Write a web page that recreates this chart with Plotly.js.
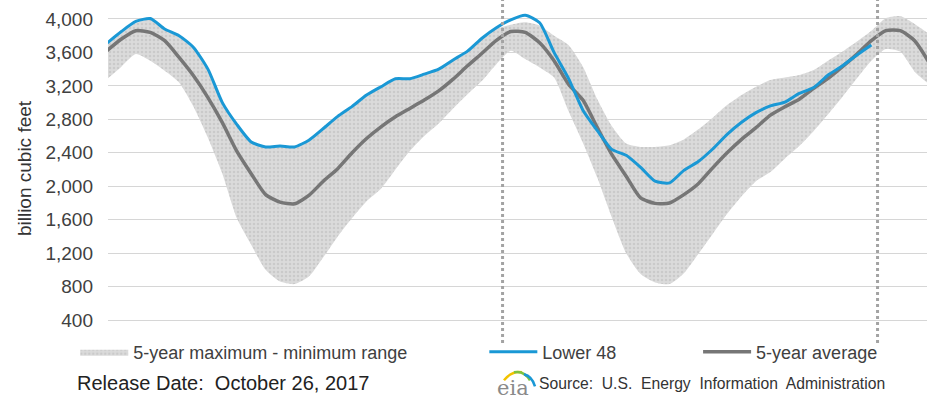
<!DOCTYPE html>
<html>
<head>
<meta charset="utf-8">
<script src="https://cdn.plot.ly/plotly-3.0.1.min.js"></script>
<style>html,body{margin:0;padding:0;background:#fff;}#chart{width:927px;height:401px;}</style>
</head>
<body>
<div id="chart"></div>
<script>
// Weekly report dates (every second week)
const weeks = ['2015-10-09','2015-10-23','2015-11-06','2015-11-20','2015-12-04','2015-12-18',
  '2016-01-01','2016-01-15','2016-01-29','2016-02-12','2016-02-26','2016-03-11','2016-03-25','2016-04-08','2016-04-22',
  '2016-05-06','2016-05-20','2016-06-03','2016-06-17','2016-07-01','2016-07-15','2016-07-29','2016-08-12','2016-08-26',
  '2016-09-09','2016-09-23','2016-10-07','2016-10-21','2016-11-04','2016-11-18','2016-12-02','2016-12-16','2016-12-30',
  '2017-01-13','2017-01-27','2017-02-10','2017-02-24','2017-03-10','2017-03-24','2017-04-07','2017-04-21','2017-05-05',
  '2017-05-19','2017-06-02','2017-06-16','2017-06-30','2017-07-14','2017-07-28','2017-08-11','2017-08-25','2017-09-08',
  '2017-09-22','2017-10-06','2017-10-20','2017-11-03','2017-11-17','2017-12-01','2017-12-15'];

// Lower 48 working gas (Bcf)
const lower48 = [3710,3850,3970,4005,3880,3800,3660,3400,3000,2740,
  2530,2470,2480,2470,2550,2690,2835,2955,3090,3190,
  3285,3285,3340,3400,3510,3615,3770,3895,3990,4045,
  3955,3600,3290,2910,2665,2440,2370,2225,2060,2040,
  2190,2295,2445,2620,2765,2880,2960,3005,3110,3180,
  3330,3440,3570,3690];

// 5-year average
const avg5 = [3620,3760,3860,3840,3740,3540,3320,3060,2760,2420,
  2150,1900,1810,1790,1890,2060,2210,2400,2570,2710,
  2830,2930,3030,3140,3280,3440,3590,3745,3850,3840,
  3715,3500,3220,3030,2700,2380,2120,1860,1795,1800,
  1900,2030,2220,2400,2560,2700,2850,2950,3040,3170,
  3290,3430,3580,3740,3860,3860,3740,3480];

// 5-year maximum
const max5 = [3690,3830,3950,3990,3870,3780,3640,3390,2990,2730,
  2520,2460,2470,2460,2540,2680,2825,2945,3080,3190,
  3270,3275,3330,3390,3500,3600,3755,3880,3930,3960,
  3920,3800,3690,3430,3040,2720,2510,2470,2470,2490,
  2560,2680,2820,2970,3090,3190,3270,3300,3330,3390,
  3500,3610,3730,3860,4010,4035,3940,3820];

// 5-year minimum
const min5 = [3280,3430,3580,3500,3380,3240,2950,2580,2150,1620,
  1300,1000,860,830,920,1150,1400,1620,1820,1970,
  2200,2420,2600,2750,2930,3100,3260,3460,3620,3520,
  3420,3300,2900,2520,2100,1630,1200,950,850,830,
  960,1190,1430,1670,1880,2060,2170,2330,2480,2660,
  2860,3070,3290,3500,3640,3610,3370,3220];

const yTicks = [400,800,1200,1600,2000,2400,2800,3200,3600,4000];
const markerDates = ['2016-10-27','2017-10-26'];

const FONT = 'Liberation Sans, Arial, sans-serif';

const traces = [
  {x: weeks, y: min5, type: 'scatter', mode: 'lines', line: {width: 0, shape: 'spline', smoothing: 0.6},
   showlegend: false, hoverinfo: 'skip'},
  {x: weeks, y: max5, type: 'scatter', mode: 'lines', name: '5-year maximum - minimum range',
   line: {width: 0, shape: 'spline', smoothing: 0.6}, fill: 'tonexty', fillcolor: '#d9d9d9',
   fillpattern: {shape: '.', bgcolor: '#dbdbdb', fgcolor: '#cacaca', size: 4, solidity: 0.3},
   legend: 'legend'},
  {x: weeks, y: avg5, type: 'scatter', mode: 'lines', name: '5-year average',
   line: {color: '#767676', width: 3.5, shape: 'spline', smoothing: 0.6}, legend: 'legend3'},
  {x: weeks.slice(0, lower48.length), y: lower48, type: 'scatter', mode: 'lines', name: 'Lower 48',
   line: {color: '#1a98d5', width: 3, shape: 'spline', smoothing: 0.6}, legend: 'legend2'}
];

const legBase = {orientation: 'h', xanchor: 'left', yanchor: 'middle', y: -0.051,
  bgcolor: 'rgba(0,0,0,0)', font: {family: FONT, size: 18, color: '#404040'}, itemwidth: 48};

const layout = {
  width: 927, height: 401,
  margin: {l: 108, r: 0, t: 2, b: 66},
  paper_bgcolor: '#ffffff', plot_bgcolor: '#ffffff',
  font: {family: FONT, color: '#404040'},
  xaxis: {type: 'date', range: ['2015-10-10', '2017-12-13'], showticklabels: false,
    showgrid: false, zeroline: false, showline: false, ticks: ''},
  yaxis: {range: [221, 4203], tickvals: yTicks, tickformat: ',d', showgrid: true,
    gridcolor: '#d6d6d6', gridwidth: 1, zeroline: false, showline: false, ticks: '',
    tickfont: {family: FONT, size: 19, color: '#404040'}, ticklabelstandoff: 14,
    title: {text: 'billion cubic feet', font: {family: FONT, size: 19, color: '#333'}, standoff: 8}},
  legend: Object.assign({}, legBase, {x: -0.040}),
  legend2: Object.assign({}, legBase, {x: 0.4595}),
  legend3: Object.assign({}, legBase, {x: 0.7205}),
  shapes: markerDates.map(d => ({type: 'line', xref: 'x', yref: 'paper', x0: d, x1: d,
    y0: -0.024, y1: 1.01, line: {color: '#a3a3a3', width: 3, dash: 'dot'}, layer: 'above'})).concat([
    {type: 'path', xref: 'paper', yref: 'paper', xsizemode: 'pixel', ysizemode: 'pixel',
     xanchor: 0.4835, yanchor: -0.118, path: 'M0,-6 Q8,4 18,2', line: {color: '#f2c300', width: 2.5}},
    {type: 'path', xref: 'paper', yref: 'paper', xsizemode: 'pixel', ysizemode: 'pixel',
     xanchor: 0.4835, yanchor: -0.118, path: 'M10,2 Q20,4 26,-6', line: {color: '#7cc242', width: 2.5}},
    {type: 'path', xref: 'paper', yref: 'paper', xsizemode: 'pixel', ysizemode: 'pixel',
     xanchor: 0.4835, yanchor: -0.118, path: 'M20,0 Q28,-2 31,-12', line: {color: '#1a98d5', width: 2.5}}
  ]),
  annotations: [
    {xref: 'paper', yref: 'paper', x: -0.0403, y: -0.144, xanchor: 'left', yanchor: 'middle', showarrow: false,
     text: 'Release Date:\u00a0 October 26, 2017', font: {family: FONT, size: 20, color: '#222'}},
    {xref: 'paper', yref: 'paper', x: 0.4945, y: -0.159, xanchor: 'center', yanchor: 'middle', showarrow: false,
     text: 'eia', font: {family: 'DejaVu Serif, serif', size: 21, color: '#8a8a8a'}},
    {xref: 'paper', yref: 'paper', x: 0.5238, y: -0.147, xanchor: 'left', yanchor: 'middle', showarrow: false,
     text: 'Source:\u00a0 U.S.\u00a0 Energy\u00a0 Information\u00a0 Administration', font: {family: FONT, size: 15.7, color: '#333'}}
  ],
  hovermode: false
};

Plotly.newPlot('chart', traces, layout, {displayModeBar: false, staticPlot: true});
</script>
</body>
</html>
